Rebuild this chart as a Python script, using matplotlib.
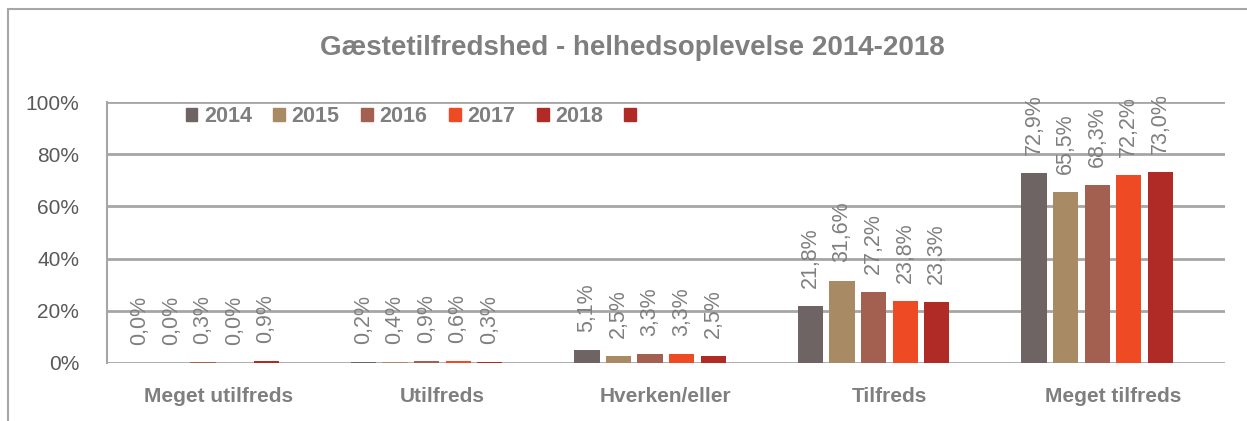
import matplotlib.pyplot as plt
from matplotlib.patches import Patch, Rectangle
import numpy as np

kategorier = ["Meget utilfreds", "Utilfreds", "Hverken/eller", "Tilfreds", "Meget tilfreds"]
aar = ["2014", "2015", "2016", "2017", "2018"]
v2014 = [0.0, 0.2, 5.1, 21.8, 72.9]
v2015 = [0.0, 0.4, 2.5, 31.6, 65.5]
v2016 = [0.3, 0.9, 3.3, 27.2, 68.3]
v2017 = [0.0, 0.6, 3.3, 23.8, 72.2]
v2018 = [0.9, 0.3, 2.5, 23.3, 73.0]
serier = [v2014, v2015, v2016, v2017, v2018]
farver = ["#6E6464", "#A88B65", "#A35F4F", "#EE4B24", "#B02A26"]
# sjette (tom) serie i legenden
ekstra_farve = "#B02A26"

plt.rcParams["font.family"] = ["Liberation Sans Narrow", "Liberation Sans", "DejaVu Sans"]
graa = "#7F7F7F"

fig = plt.figure(figsize=(12.47, 4.21), dpi=100)
ax = fig.add_axes([0.0858, 0.1378, 0.8962, 0.6199])

# ramme rundt om diagrammet
fig.patches.append(Rectangle((8 / 1247, -0.1), 1.2, 1.1 - 9 / 421,
                             transform=fig.transFigure, fill=False,
                             edgecolor="#A6A6A6", linewidth=1.5))

x = np.arange(len(kategorier))
bredde = 0.112
trin = 0.141
n_slots = 6  # 5 aar + tom serie
for i, (vals, farve) in enumerate(zip(serier, farver)):
    pos = x + (i - (n_slots - 1) / 2) * trin
    ax.bar(pos, vals, width=bredde, color=farve, zorder=3)
    for p, v in zip(pos, vals):
        ax.annotate(f"{v:.1f}%".replace(".", ","), (p, v), xytext=(0, 13),
                    textcoords="offset points", rotation=90, ha="center",
                    va="bottom", fontsize=15.5, color=graa, zorder=4)

ax.set_ylim(0, 100)
ax.set_xlim(-0.5, len(kategorier) - 0.5)
ax.set_yticks(range(0, 101, 20))
ax.set_yticklabels([f"{t}%" for t in range(0, 101, 20)], fontsize=15, color="#595959")
ax.set_xticks(x)
ax.set_xticklabels(kategorier, fontsize=15, fontweight="bold", color=graa)
ax.tick_params(axis="x", length=0, pad=17)
ax.tick_params(axis="y", length=0, pad=20)
ax.grid(axis="y", color="#A6A6A6", linewidth=2, zorder=0)
for s in ["top", "right", "bottom"]:
    ax.spines[s].set_visible(False)
ax.spines["left"].set_color("#A6A6A6")
ax.spines["left"].set_linewidth(1.5)

handles = [Patch(color=f) for f in farver] + [Patch(color=ekstra_farve)]
labels = aar + [""]
ax.legend(handles, labels, loc="upper left", bbox_to_anchor=(0.053, 1.06), ncol=6,
          frameon=False, prop={"size": 15.5, "weight": "bold"}, labelcolor=graa,
          handlelength=0.55, handleheight=0.55, handletextpad=0.3, columnspacing=1.0)

fig.text(0.507, 0.885, "Gæstetilfredshed - helhedsoplevelse 2014-2018",
         ha="center", va="center", fontsize=20, fontweight="bold", color=graa)

fig.savefig("out.png", dpi=100)
